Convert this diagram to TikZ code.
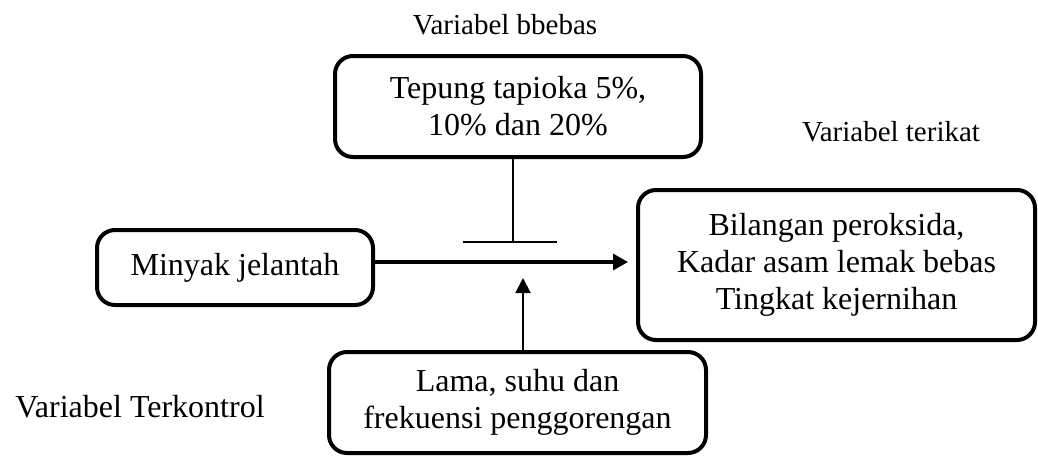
\documentclass[tikz,border=0pt]{standalone}
\usepackage{fontspec}
\setmainfont{Liberation Serif}
\usetikzlibrary{arrows.meta}

\begin{document}
\begin{tikzpicture}[x=0.5pt,y=-0.5pt,
  box/.style={draw,line width=2pt,rounded corners=9pt,align=center,inner sep=0pt,
    font=\fontsize{16}{18.5}\selectfont},
  lbl/.style={font=\fontsize{14.5}{17}\selectfont}]
  \useasboundingbox (0,0) rectangle (1038,456);
  % Variabel bebas
  \node[lbl] (lblbebas) at (505,25) {Variabel bbebas};
  \node[box,minimum width=183pt,minimum height=50.5pt] (bebas) at (518,106.5) {Tepung tapioka 5\%,\\10\% dan 20\%};
  % Minyak
  \node[box,minimum width=138pt,minimum height=37.5pt] (minyak) at (235,267.5) {Minyak jelantah};
  % Variabel terikat
  \node[lbl] (lblterikat) at (891,132) {Variabel terikat};
  \node[box,minimum width=198.5pt,minimum height=75pt] (terikat) at (836.5,265) {Bilangan peroksida,\\Kadar asam lemak bebas\\Tingkat kejernihan};
  % Variabel terkontrol
  \node[lbl,font=\fontsize{16}{18.5}\selectfont] (lblkontrol) at (140,407) {Variabel Terkontrol};
  \node[box,minimum width=188.5pt,minimum height=50.5pt] (kontrol) at (517.5,402.5) {Lama, suhu dan\\frekuensi penggorengan};
  % T line
  \coordinate (tbar) at (513,242);
  \draw[line width=0.75pt] (bebas.south -| tbar) -- (tbar);
  \draw[line width=0.75pt] ([xshift=-25pt]tbar) -- ([xshift=22pt]tbar);
  % Arrows
  \coordinate (mid) at (0,262);
  \draw[line width=1.6pt,-{Triangle[length=7.5pt,width=8pt]},shorten >=4pt] (minyak.east |- mid) -- (terikat.west |- mid);
  \coordinate (ctrl) at (523,278);
  \draw[line width=1pt,-{Triangle[length=7.5pt,width=7.5pt]}] (kontrol.north -| ctrl) -- (ctrl);
\end{tikzpicture}
\end{document}
